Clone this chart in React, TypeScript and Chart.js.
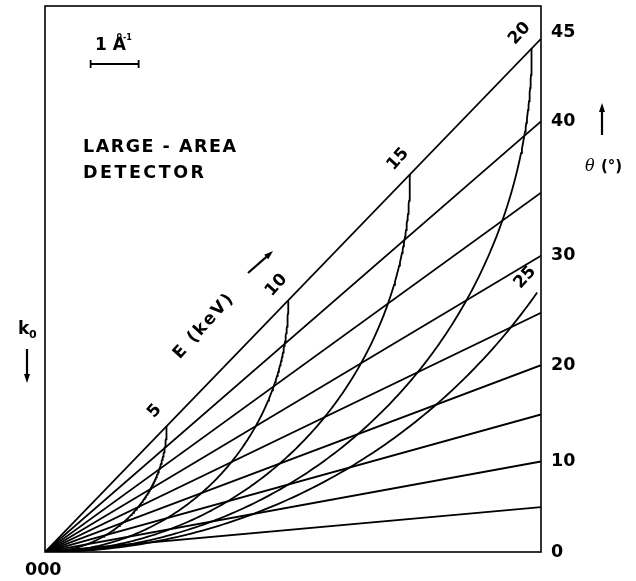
import React, { useEffect, useRef } from "react";
import { Chart, registerables } from "chart.js";

Chart.register(...registerables);

// Bragg-angle lines (degrees) drawn from the origin 000
const thetaLines = [5, 10, 15, 20, 25, 30, 35, 40, 45];
// right-hand θ tick labels
const thetaTickValues = [0, 10, 20, 30, 40, 45];
const thetaTickLabels = ["0", "10", "20", "30", "40", "45"];
// Ewald-sphere energies (keV) and where each arc stops (degrees)
const energies = [5, 10, 15, 20, 25];
const energyLabels = ["5", "10", "15", "20", "25"];
const arcThetaMax = [45, 45, 45, 45, 27];
// k = 2π/λ in Å⁻¹ per keV
const kPerKeV = 0.5068;
// axis extents in Å⁻¹
const qMax = 10.33;
const yMax = 10.99;

const rad = (d: number) => (d * Math.PI) / 180;

function lineData(theta: number) {
  return [
    { x: 0, y: 0 },
    { x: qMax, y: qMax * Math.tan(rad(theta)) },
  ];
}

function arcData(E: number, tMax: number) {
  const k = kPerKeV * E;
  const pts: { x: number; y: number }[] = [];
  for (let t = 0; t <= tMax + 1e-9; t += 0.25) {
    const r = rad(t);
    pts.push({ x: k * Math.sin(2 * r), y: 2 * k * Math.sin(r) * Math.sin(r) });
  }
  return pts;
}

function arrow(ctx: CanvasRenderingContext2D, x1: number, y1: number, x2: number, y2: number) {
  const a = Math.atan2(y2 - y1, x2 - x1);
  const hl = 9;
  const hw = 3;
  ctx.beginPath();
  ctx.moveTo(x1, y1);
  ctx.lineTo(x2 - Math.cos(a) * hl * 0.6, y2 - Math.sin(a) * hl * 0.6);
  ctx.lineWidth = 2.2;
  ctx.stroke();
  ctx.beginPath();
  ctx.moveTo(x2, y2);
  ctx.lineTo(x2 - Math.cos(a) * hl - Math.sin(a) * hw, y2 - Math.sin(a) * hl + Math.cos(a) * hw);
  ctx.lineTo(x2 - Math.cos(a) * hl + Math.sin(a) * hw, y2 - Math.sin(a) * hl - Math.cos(a) * hw);
  ctx.closePath();
  ctx.fill();
}

const BOLD = "DejaVu Sans";

const annotations = {
  id: "annotations",
  afterDatasetsDraw(chart: any) {
    const ctx: CanvasRenderingContext2D = chart.ctx;
    const xs = chart.scales.x;
    const ys = chart.scales.y;
    const area = chart.chartArea;
    ctx.save();
    ctx.fillStyle = "#000";
    ctx.strokeStyle = "#000";

    // frame
    ctx.lineWidth = 1.6;
    ctx.strokeRect(area.left, area.top, area.right - area.left, area.bottom - area.top);

    // right θ labels
    ctx.font = `bold 17.5px "${BOLD}"`;
    ctx.textAlign = "left";
    ctx.textBaseline = "middle";
    thetaTickValues.forEach((t, i) => {
      let py = ys.getPixelForValue(qMax * Math.tan(rad(t)));
      if (t === 45) py -= 6;
      ctx.fillText(thetaTickLabels[i], area.right + 10, py);
    });

    // θ (°) axis title + arrow
    arrow(ctx, 602, 135, 602, 103);
    ctx.textAlign = "left";
    ctx.font = `italic 16px "DejaVu Serif"`;
    ctx.fillText("θ", 585, 167);
    ctx.font = `bold 15px "${BOLD}"`;
    ctx.fillText("(°)", 601, 167);

    // energy labels on arcs
    ctx.font = `bold 17px "${BOLD}"`;
    ctx.textAlign = "center";
    ctx.textBaseline = "middle";
    energies.forEach((E, i) => {
      const k = kPerKeV * E;
      const r = rad(arcThetaMax[i]);
      const px = xs.getPixelForValue(k * Math.sin(2 * r));
      const py = ys.getPixelForValue(2 * k * Math.sin(r) * Math.sin(r));
      ctx.save();
      ctx.translate(px - 12, py - 15);
      ctx.rotate(-rad(48));
      ctx.fillText(energyLabels[i], 0, 0);
      ctx.restore();
    });

    // E (keV) with arrow
    ctx.save();
    ctx.translate(204, 326);
    ctx.rotate(-rad(48));
    (ctx as any).letterSpacing = "2px";
    ctx.font = `bold 17px "${BOLD}"`;
    ctx.fillText("E (keV)", 0, 0);
    ctx.restore();
    arrow(ctx, 248, 273, 273, 251);

    // scale bar 1 Å⁻¹
    const bx0 = xs.getPixelForValue(0.95);
    const bx1 = xs.getPixelForValue(1.95);
    const by = 64;
    ctx.lineWidth = 1.8;
    ctx.beginPath();
    ctx.moveTo(bx0, by);
    ctx.lineTo(bx1, by);
    ctx.moveTo(bx0, by - 4);
    ctx.lineTo(bx0, by + 4);
    ctx.moveTo(bx1, by - 4);
    ctx.lineTo(bx1, by + 4);
    ctx.stroke();
    ctx.textAlign = "left";
    ctx.textBaseline = "alphabetic";
    ctx.font = `bold 17px "${BOLD}"`;
    ctx.fillText("1 Å", 95, 50);
    ctx.font = `bold 8px "${BOLD}"`;
    ctx.fillText("-1", 123, 40);

    // LARGE - AREA DETECTOR
    ctx.font = `bold 17.5px "${BOLD}"`;
    (ctx as any).letterSpacing = "1.5px";
    ctx.fillText("LARGE - AREA", 83, 152);
    (ctx as any).letterSpacing = "2.5px";
    ctx.fillText("DETECTOR", 83, 178);
    (ctx as any).letterSpacing = "0px";

    // k0 with arrow
    ctx.font = `bold 17px "${BOLD}"`;
    ctx.fillText("k", 18, 334);
    ctx.font = `bold 11px "${BOLD}"`;
    ctx.fillText("0", 29, 338);
    arrow(ctx, 27, 349, 27, 383);

    // origin label
    ctx.font = `bold 17.5px "${BOLD}"`;
    ctx.fillText("000", 25, 575);

    ctx.restore();
  },
};

export default function App() {
  const ref = useRef<HTMLCanvasElement | null>(null);
  useEffect(() => {
    if (!ref.current) return;
    const datasets: any[] = [];
    thetaLines.forEach((t) => {
      datasets.push({
        label: `θ=${t}`,
        data: lineData(t),
        showLine: true,
        borderColor: "#000",
        borderWidth: 1.8,
        pointRadius: 0,
        fill: false,
      });
    });
    energies.forEach((E, i) => {
      datasets.push({
        label: `E=${E}`,
        data: arcData(E, arcThetaMax[i]),
        showLine: true,
        borderColor: "#000",
        borderWidth: 1.8,
        pointRadius: 0,
        fill: false,
        tension: 0,
      });
    });
    const chart = new Chart(ref.current, {
      type: "scatter",
      data: { datasets },
      options: {
        responsive: false,
        animation: false,
        devicePixelRatio: 1,
        layout: { padding: { left: 45, top: 6, right: 95, bottom: 29 } },
        plugins: { legend: { display: false }, tooltip: { enabled: false } },
        events: [],
        scales: {
          x: { type: "linear", min: 0, max: qMax, display: false },
          y: { type: "linear", min: 0, max: yMax, display: false },
        },
      },
      plugins: [annotations],
    });
    return () => chart.destroy();
  }, []);
  return (
    <div style={{ position: "absolute", left: 0, top: 0, width: 636, height: 581, background: "#fff" }}>
      <canvas ref={ref} width={636} height={581} style={{ display: "block" }} />
    </div>
  );
}
